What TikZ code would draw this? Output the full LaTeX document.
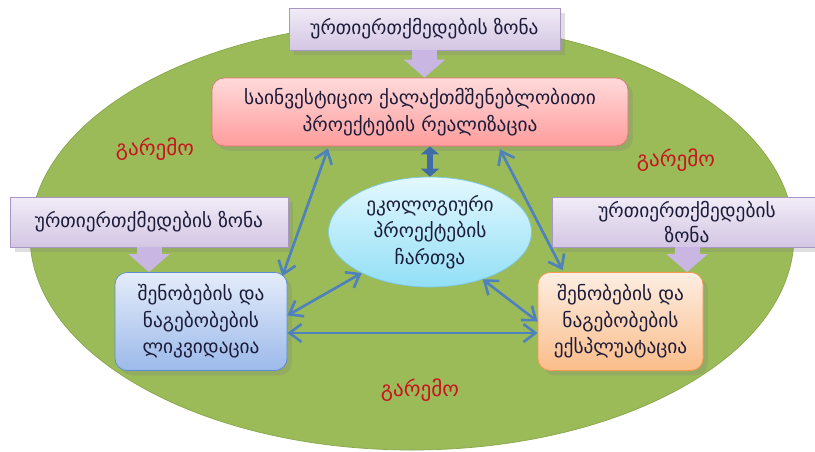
\documentclass[tikz,border=0pt]{standalone}
\usepackage{fontspec}
\setmainfont{DejaVu Sans}
\usetikzlibrary{arrows.meta,calc,shapes.geometric,shadows}

\definecolor{umwelt}{HTML}{9BBB59}
\definecolor{umweltrand}{HTML}{8AA64E}
\definecolor{umweltrot}{HTML}{C8141E}
\definecolor{schrift}{HTML}{1C1C3A}
\definecolor{zonerand}{HTML}{A897C4}
\definecolor{zoneoben}{HTML}{F1ECF7}
\definecolor{zoneunten}{HTML}{D3C6E3}
\definecolor{blocklila}{HTML}{C9B6E3}
\definecolor{pfeilblau}{HTML}{4F81BD}
\definecolor{pfeildunkel}{HTML}{3F6CA6}
\definecolor{rotoben}{HTML}{FFDADA}
\definecolor{rotunten}{HTML}{FF9C9C}
\definecolor{rotrand}{HTML}{E07272}
\definecolor{cyanoben}{HTML}{E3F8FE}
\definecolor{cyanunten}{HTML}{92DFF6}
\definecolor{cyanrand}{HTML}{7CC9E4}
\definecolor{blauoben}{HTML}{E4ECFA}
\definecolor{blauunten}{HTML}{9CBAEA}
\definecolor{blaurand}{HTML}{5B8BD0}
\definecolor{orangeoben}{HTML}{FDEEE2}
\definecolor{orangeunten}{HTML}{FBBD8A}
\definecolor{orangerand}{HTML}{F39A4E}

\begin{document}
\begin{tikzpicture}[
    zone/.style={rectangle, draw=zonerand, top color=zoneoben, bottom color=zoneunten,
      drop shadow={opacity=0.25}, text=schrift, align=center, inner sep=2pt,
      font=\fontsize{11}{14}\selectfont},
    feld/.style={rectangle, rounded corners=0.24cm, align=center, text=schrift,
      drop shadow={opacity=0.25}, font=\fontsize{11}{15}\selectfont},
    pfeil/.style={{Straight Barb[length=0.24cm,width=0.36cm]}-{Straight Barb[length=0.24cm,width=0.36cm]},
      line width=1.5pt, color=pfeilblau},
    block/.style={-{Triangle[length=0.36cm,width=0.8cm]}, line width=0.5cm, color=blocklila},
    umwelttext/.style={text=umweltrot, font=\fontsize{12}{14}\selectfont}
  ]
        \useasboundingbox (0,0) rectangle (16.3,-9.02);
        % Umgebung
        \draw[fill=umwelt, draw=umweltrand] (8.24,-4.72) ellipse [x radius=7.64cm, y radius=4.28cm];
        % Rechteck - Projekte
        \node at (8.40,-2.24) [feld, draw=rotrand, top color=rotoben, bottom color=rotunten,
            minimum width=8.32cm, minimum height=1.36cm] (projekt)
            {საინვესტიციო ქალაქთმშენებლობითი\\პროექტების რეალიზაცია};
        % Ellipse - Mitte
        \node at (8.60,-4.64) [ellipse, draw=cyanrand, top color=cyanoben, bottom color=cyanunten,
            align=center, text=schrift, font=\fontsize{11}{15}\selectfont,
            minimum width=4.06cm, minimum height=2.2cm, inner sep=0pt] (eco)
            {ეკოლოგიური\\პროექტების\\ჩართვა};
        % Rechteck - links
        \node at (4.02,-6.43) [feld, draw=blaurand, top color=blauoben, bottom color=blauunten,
            minimum width=3.44cm, minimum height=1.96cm] (links)
            {შენობების და\\ნაგებობების\\ლიკვიდაცია};
        % Rechteck - rechts
        \node at (12.41,-6.43) [feld, draw=orangerand, top color=orangeoben, bottom color=orangeunten,
            minimum width=3.3cm, minimum height=1.96cm] (rechts)
            {შენობების და\\ნაგებობების\\ექსპლუატაცია};
        % Zonen
        \node at (8.49,-0.58) [zone, minimum width=5.42cm, minimum height=0.84cm] (zoneT)
            {ურთიერთქმედების ზონა};
        \node at (2.98,-4.44) [zone, minimum width=5.56cm, minimum height=1.0cm] (zoneL)
            {ურთიერთქმედების ზონა};
        \node at (13.74,-4.44) [zone, minimum width=5.4cm, minimum height=1.0cm] (zoneR)
            {ურთიერთქმედების\\ზონა};
        % Blockpfeile
        \draw[block] (zoneT.south) -- (zoneT.south |- projekt.north);
        \draw[block] (zoneL.south) -- (zoneL.south |- links.north);
        \draw[block] (zoneR.south) -- (zoneR.south |- rechts.north);
        % Pfeil Mitte
        \draw[{Triangle[length=0.16cm,width=0.36cm]}-{Triangle[length=0.16cm,width=0.36cm]},
            line width=0.12cm, color=pfeildunkel] (eco.north |- projekt.south) -- (eco.north);
        % Pfeile
        \draw[pfeil] ($(projekt.south)+(-1.84,-0.04)$) -- ($(links.north east)+(-0.1,-0.08)$);
        \draw[pfeil] ($(projekt.south)+(1.6,-0.06)$) -- ($(rechts.north west)+(0.5,0.04)$);
        \draw[pfeil] (eco.211) -- (links.4);
        \draw[pfeil] (eco.318) -- (rechts.west);
        \draw[pfeil] ($(links.east)+(0,-0.23)$) -- ($(rechts.west)+(0,-0.23)$);
        % Umwelt
        \node at (3.1,-2.98) [umwelttext] (u1) {გარემო};
        \node at (13.52,-3.2) [umwelttext] (u2) {გარემო};
        \node at (8.4,-7.8) [umwelttext] (u3) {გარემო};
    \end{tikzpicture}
\end{document}
